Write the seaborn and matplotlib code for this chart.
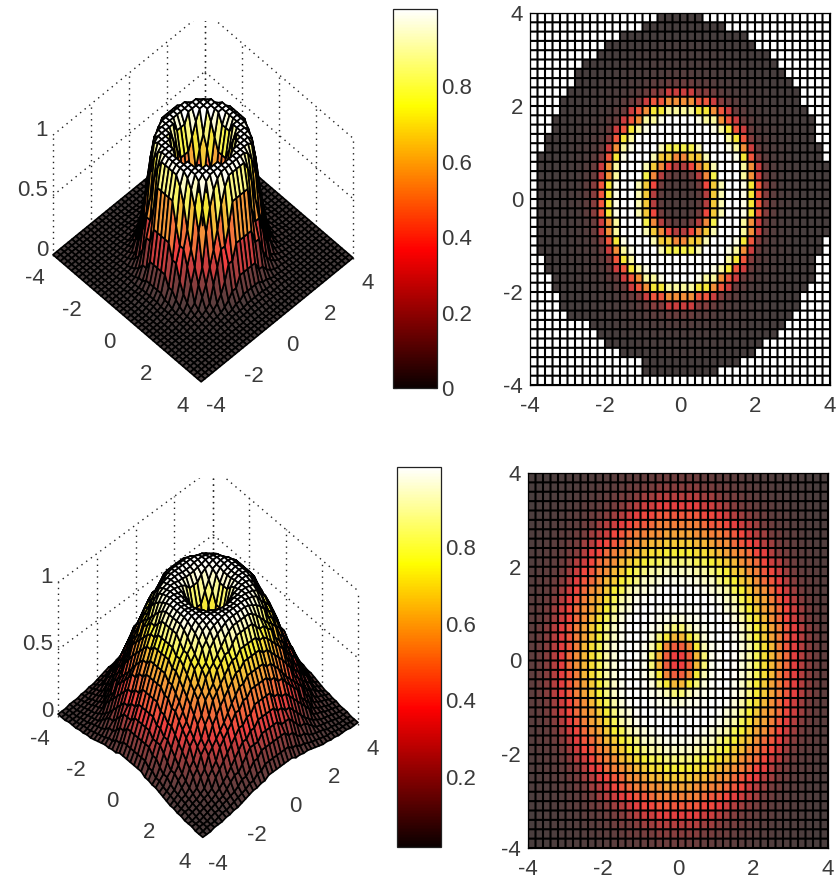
import numpy as np
import matplotlib
matplotlib.use("Agg")
import matplotlib.pyplot as plt
from matplotlib.cm import ScalarMappable
from matplotlib.colors import Normalize
from mpl_toolkits.mplot3d import proj3d
import seaborn as sns

# Values: height against radius, one value per 0.1 of radius
RADIAL_STEP = 0.1
profile_top = [.04, .04, .05, .05, .07, .10, .17, .30, .42, .58,
               .72, .82, .92, 1.0, 1.0, 1.0, 1.0, 1.0, .97, .90,
               .78, .60, .46, .34, .22, .14, .09, .06, .04, .03,
               .03, .02, .02, .02, .01, .01, .01, .01, .01, .01,
               .01, .01, .01, .01, .01, .01, .01, .01, .01, .01,
               .01, .01, .01, .01, .01, .01, .01, .01]
profile_bottom = [.38, .40, .43, .48, .58, .68, .78, .86, .92, .96,
                  .98, .99, .99, 1.0, 1.0, 1.0, .99, .98, .96, .94,
                  .91, .87, .83, .79, .76, .72, .68, .64, .60, .56,
                  .51, .46, .42, .38, .34, .30, .26, .22, .18, .15,
                  .12, .10, .09, .08, .07, .06, .05, .05, .04, .04,
                  .03, .03, .03, .02, .02, .02, .02, .02]
# Outline of the upper map: radius of the drawn region every 30 degrees from +x
outline_radius = [4.0, 3.9, 3.9, 3.95, 3.85, 3.75, 3.85, 3.88, 3.65, 3.83, 3.85, 3.9]
# The rings on the two flat maps are slightly narrower in x than in y
map_ring_scale = [1.05, 1.0]

axis_ticks = [-4, -2, 0, 2, 4]
z_ticks = [0, 0.5, 1]
z_labels = ["0", "0.5", "1"]
cbar_ticks_top = [0, 0.2, 0.4, 0.6, 0.8]
cbar_labels_top = ["0", "0.2", "0.4", "0.6", "0.8"]
cbar_ticks_bottom = [0.2, 0.4, 0.6, 0.8]
cbar_labels_bottom = ["0.2", "0.4", "0.6", "0.8"]
cell_stops = ["#453e3e", "#7c3e3e", "#ee4040", "#f4903a", "#f6f038", "#ffffff"]

W, H = 836, 882
TXT = "#3a3a3a"
FS = 16

sns.set_style("white")
plt.rcParams["font.family"] = ["Liberation Sans", "DejaVu Sans"]

cell_cmap = sns.blend_palette(cell_stops, n_colors=256, as_cmap=True)
cell_cmap.set_bad("white")
bar_cmap = sns.color_palette("hot", as_cmap=True)


def lookup(profile, r):
    idx = np.minimum(np.rint(r / RADIAL_STEP).astype(int), len(profile) - 1)
    return np.asarray(profile)[idx]


def px_rect(x0, y0, x1, y1):
    return [x0 / W, 1 - y1 / H, (x1 - x0) / W, (y1 - y0) / H]


def surface(fig, profile, elev, azim, left, right, bottom_y):
    ax = fig.add_axes([0.1, 0.1, 0.5, 0.5], projection="3d", proj_type="ortho",
                      computed_zorder=False)
    ax.set_xlim(-4, 4)
    ax.set_ylim(-4, 4)
    ax.set_zlim(0, 1)
    ax.set_box_aspect((1, 1, 1.04))
    ax.view_init(elev=elev, azim=azim)
    ax.set_axis_off()
    ax.patch.set_alpha(0)

    def project(x, y, z):
        u, v, _ = proj3d.proj_transform(x, y, z, ax.get_proj())
        return float(u), float(v)

    def corners():
        ax.apply_aspect()
        return (ax.transData.transform(project(-4, -4, 0)),
                ax.transData.transform(project(4, 4, 0)),
                ax.transData.transform(project(4, -4, 0)))

    # Fit the axes box so the floor lands where it sits in the reference
    l, r, b = corners()
    pos = ax.get_position()
    k = (right[0] - left[0]) / (r[0] - l[0])
    size = pos.width * W * k
    ax.set_position([pos.x0, pos.y0, size / W, size / H])
    l, r, b = corners()
    pos = ax.get_position()
    dx = left[0] - l[0]
    dy = (H - bottom_y) - b[1]
    ax.set_position([pos.x0 + dx / W, pos.y0 + dy / H, pos.width, pos.height])

    dot = dict(color="#222222", lw=1.0, ls=(0, (1, 3.2)), zorder=1)
    for t in axis_ticks:
        ax.plot([-4, -4], [t, t], [0, 1], **dot)
        ax.plot([t, t], [4, 4], [0, 1], **dot)
    for z in z_ticks[1:]:
        ax.plot([-4, -4], [-4, 4], [z, z], **dot)
        ax.plot([-4, 4], [4, 4], [z, z], **dot)

    g = np.linspace(-4, 4, 41)
    X, Y = np.meshgrid(g, g)
    Z = lookup(profile, np.hypot(X, Y))
    C = cell_cmap(Normalize(0, 1)((Z[:-1, :-1] + Z[1:, 1:]) / 2))
    ax.plot_surface(X, Y, Z, facecolors=C, edgecolor="black", linewidth=1.25,
                    rstride=1, cstride=1, shade=False, antialiased=True, zorder=2)

    lab = dict(textcoords="offset pixels", fontsize=FS, color=TXT,
               annotation_clip=False, ha="center", va="center")
    for t in axis_ticks:
        ax.annotate(str(t), xy=project(t, -4, 0), xytext=(-18, -23), **lab)
        ax.annotate(str(t), xy=project(4, t, 0), xytext=(15, -24), **lab)
    lab["ha"] = "right"
    for z, s in zip(z_ticks, z_labels):
        ax.annotate(s, xy=project(-4, -4, z), xytext=(-5, 5), **lab)
    return ax


def cell_map(fig, rect, values):
    ax = fig.add_axes(rect)
    sns.heatmap(values, ax=ax, cmap=cell_cmap, vmin=0, vmax=1, cbar=False,
                square=False, xticklabels=False, yticklabels=False)
    edges = np.arange(0, 41)
    grid = dict(colors="black", linewidths=1.5, snap=False)
    ax.vlines(edges, 0, 40, **grid)
    ax.hlines(edges, 0, 40, **grid)
    pos = [(t + 4) * 5 for t in axis_ticks]
    ax.set_xticks(pos, [str(t) for t in axis_ticks])
    ax.set_yticks(pos[::-1], [str(t) for t in axis_ticks])
    ax.set_ylim(40, 0)
    ax.tick_params(length=3, width=0.8, direction="in", labelsize=FS,
                   colors=TXT, left=True, bottom=True)
    ax.tick_params(axis="x", pad=8)
    ax.tick_params(axis="y", pad=5)
    for lb in ax.get_yticklabels():
        lb.set_rotation(0)
    for s in ax.spines.values():
        s.set_visible(True)
        s.set_color("black")
        s.set_linewidth(0.9)
    return ax


def bar(fig, rect, vmin, vmax, ticks, labels):
    cax = fig.add_axes(rect)
    cb = fig.colorbar(ScalarMappable(Normalize(vmin, vmax), bar_cmap), cax=cax)
    cb.set_ticks(ticks, labels=labels)
    cb.ax.tick_params(length=3, width=0.8, direction="in", labelsize=FS,
                      labelcolor=TXT, pad=3, left=True, right=True, color="black")
    cb.outline.set_edgecolor("#222222")
    cb.outline.set_linewidth(0.9)


fig = plt.figure(figsize=(W / 100, H / 100), dpi=100, facecolor="white")

surface(fig, profile_top, 56.8, -44.3, (53, 255), (353, 258), 383)
surface(fig, profile_bottom, 52.5, -43, (58, 716), (358, 725), 840)

bar(fig, px_rect(393, 9, 437, 388), 0, 1.004, cbar_ticks_top, cbar_labels_top)
bar(fig, px_rect(397, 467, 441, 847), 0.016, 1.01, cbar_ticks_bottom, cbar_labels_bottom)

c = np.linspace(3.9, -3.9, 40)
xc = c[::-1]
XC, YC = np.meshgrid(xc, c)
RC = np.hypot(XC, YC)
RING = np.hypot(XC * map_ring_scale[0], YC * map_ring_scale[1])
ang = np.mod(np.degrees(np.arctan2(YC, XC)), 360)
limit = np.asarray(outline_radius)[np.rint(ang / 30).astype(int) % 12]
top_map = lookup(profile_top, RING)
top_map[RC > limit] = np.nan
bottom_map = lookup(profile_bottom, RING)

cell_map(fig, px_rect(530, 13, 830, 385), top_map)
cell_map(fig, px_rect(528, 473, 828, 848), bottom_map)

fig.savefig("out.png", dpi=100, facecolor="white")
